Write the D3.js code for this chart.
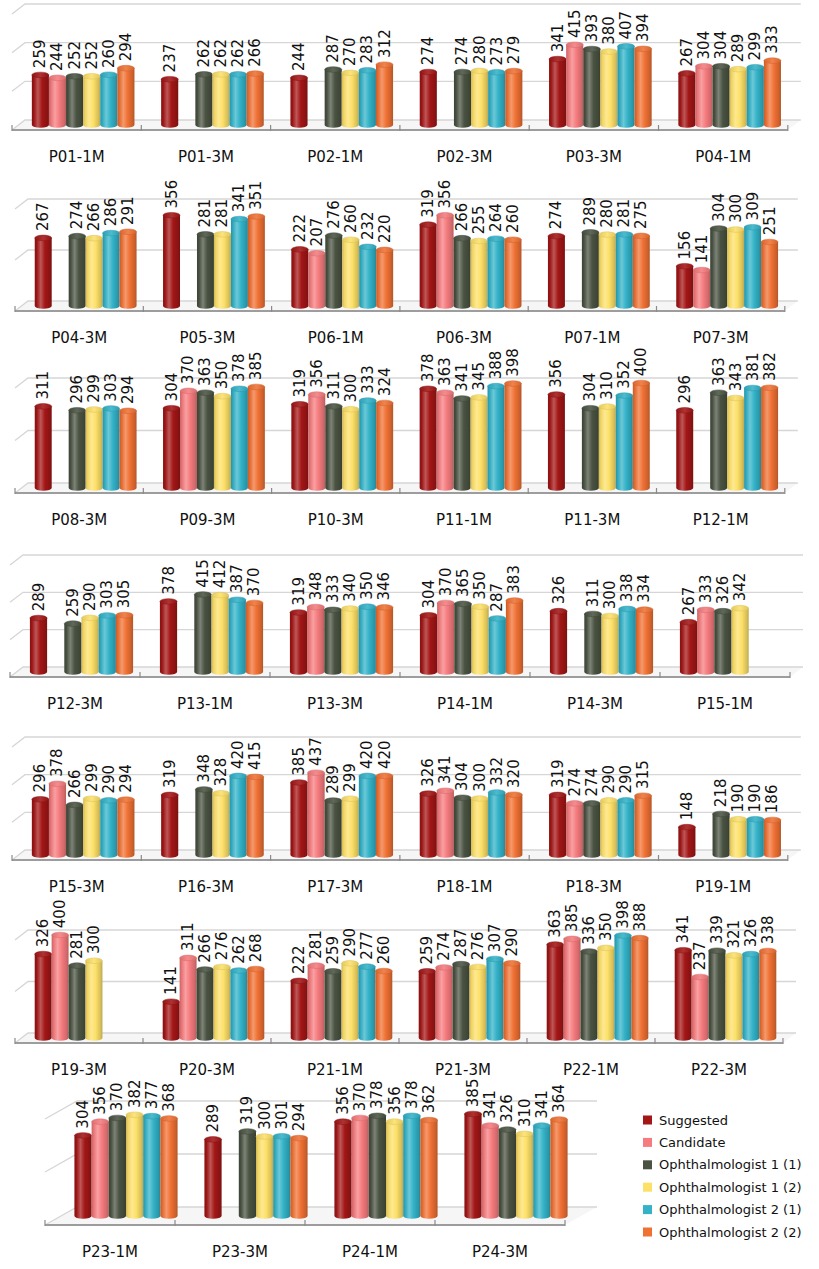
<!DOCTYPE html>
<html>
<head>
<meta charset="utf-8">
<script src="https://cdn.jsdelivr.net/npm/d3@7"></script>
<style>
  html, body { margin: 0; padding: 0; background: #ffffff; }
  svg { display: block; font-family: "DejaVu Sans", "Open Sans", sans-serif; }
</style>
</head>
<body>
<script>
// ---- data ----
const categories = [
  "P01-1M", "P01-3M", "P02-1M", "P02-3M", "P03-3M", "P04-1M",
  "P04-3M", "P05-3M", "P06-1M", "P06-3M", "P07-1M", "P07-3M",
  "P08-3M", "P09-3M", "P10-3M", "P11-1M", "P11-3M", "P12-1M",
  "P12-3M", "P13-1M", "P13-3M", "P14-1M", "P14-3M", "P15-1M",
  "P15-3M", "P16-3M", "P17-3M", "P18-1M", "P18-3M", "P19-1M",
  "P19-3M", "P20-3M", "P21-1M", "P21-3M", "P22-1M", "P22-3M",
  "P23-1M", "P23-3M", "P24-1M", "P24-3M"
];
const suggested = [
  259, 237, 244, 274, 341, 267,
  267, 356, 222, 319, 274, 156,
  311, 304, 319, 378, 356, 296,
  289, 378, 319, 304, 326, 267,
  296, 319, 385, 326, 319, 148,
  326, 141, 222, 259, 363, 341,
  304, 289, 356, 385
];
const candidate = [
  244, null, null, null, 415, 304,
  null, null, 207, 356, null, 141,
  null, 370, 356, 363, null, null,
  null, null, 348, 370, null, 333,
  378, null, 437, 341, 274, null,
  400, 311, 281, 274, 385, 237,
  356, null, 370, 341
];
const oph1First = [
  252, 262, 287, 274, 393, 304,
  274, 281, 276, 266, 289, 304,
  296, 363, 311, 341, 304, 363,
  259, 415, 333, 365, 311, 326,
  266, 348, 289, 304, 274, 218,
  281, 266, 259, 287, 336, 339,
  370, 319, 378, 326
];
const oph1Second = [
  252, 262, 270, 280, 380, 289,
  266, 281, 260, 255, 280, 300,
  299, 350, 300, 345, 310, 343,
  290, 412, 340, 350, 300, 342,
  299, 328, 299, 300, 290, 190,
  300, 276, 290, 276, 350, 321,
  382, 300, 356, 310
];
const oph2First = [
  260, 262, 283, 273, 407, 299,
  286, 341, 232, 264, 281, 309,
  303, 378, 333, 388, 352, 381,
  303, 387, 350, 287, 338, null,
  290, 420, 420, 332, 290, 190,
  null, 262, 277, 307, 398, 326,
  377, 301, 378, 341
];
const oph2Second = [
  294, 266, 312, 279, 394, 333,
  291, 351, 220, 260, 275, 251,
  294, 385, 324, 398, 400, 382,
  305, 370, 346, 383, 334, null,
  294, 415, 420, 320, 315, 186,
  null, 268, 260, 290, 388, 338,
  368, 294, 362, 364
];
const seriesNames = [
  "Suggested", "Candidate",
  "Ophthalmologist 1 (1)", "Ophthalmologist 1 (2)",
  "Ophthalmologist 2 (1)", "Ophthalmologist 2 (2)"
];
const seriesValues = [suggested, candidate, oph1First, oph1Second, oph2First, oph2Second];
const rowSizes = [6, 6, 6, 6, 6, 6, 4];
const rowAxisMax = [600, 400, 400, 600, 600, 400, 400];
const gridStep = 200;

// ---- styling / layout ----
const colors = ["#a31616", "#f57b7e", "#4a5342", "#fde068", "#33b2c8", "#f07134"];
// per-row chart frame: left edge, panel width, front axis y, floor depth, axis pixel height
const rowFrames = [
  { x0: 12, pw: 129.3, front: 130,  dx: 13, dy: 10, h: 116 },
  { x0: 15, pw: 128.3, front: 311,  dx: 13, dy: 10, h: 102 },
  { x0: 15, pw: 128.3, front: 493,  dx: 13, dy: 10, h: 105 },
  { x0: 10, pw: 130,   front: 677,  dx: 13, dy: 10, h: 112 },
  { x0: 12, pw: 129.3, front: 860,  dx: 13, dy: 10, h: 113 },
  { x0: 15, pw: 128,   front: 1043, dx: 13, dy: 10, h: 103 },
  { x0: 45, pw: 130,   front: 1225, dx: 32, dy: 18, h: 106 }
];
const FONT = "DejaVu Sans";

const svg = d3.select("body").append("svg")
  .attr("width", 819).attr("height", 1269);
const defs = svg.append("defs");

// cylinder shading gradients, one per series
colors.forEach((c, i) => {
  const base = d3.color(c);
  const light = d3.interpolateRgb(c, "#ffffff")(0.28);
  const g = defs.append("linearGradient").attr("id", "cyl" + i)
    .attr("x1", 0).attr("x2", 1).attr("y1", 0).attr("y2", 0);
  [[0, base.darker(0.55).formatHex()],
   [0.12, base.darker(0.15).formatHex()],
   [0.35, light],
   [0.6, base.formatHex()],
   [0.88, base.darker(0.45).formatHex()],
   [1, base.darker(0.8).formatHex()]]
    .forEach(([o, col]) => g.append("stop").attr("offset", o).attr("stop-color", col));
  const t = defs.append("linearGradient").attr("id", "cap" + i)
    .attr("x1", 0).attr("x2", 1).attr("y1", 0).attr("y2", 0);
  [[0, base.darker(0.3).formatHex()],
   [0.5, d3.interpolateRgb(c, "#ffffff")(0.12)],
   [1, base.darker(0.35).formatHex()]]
    .forEach(([o, col]) => t.append("stop").attr("offset", o).attr("stop-color", col));
});

let start = 0;
rowSizes.forEach((n, r) => {
  const F = rowFrames[r];
  const cats = categories.slice(start, start + n);
  const offset = start;
  start += n;
  const W = F.pw * n;
  const back = F.front - F.dy;

  const x = d3.scaleBand().domain(cats).range([F.x0, F.x0 + W]);
  const inner = d3.scaleBand().domain(d3.range(seriesNames.length))
    .range([0, x.bandwidth()]).paddingInner(0).paddingOuter(0.78);
  const y = d3.scaleLinear().domain([0, rowAxisMax[r]]).range([back, back - F.h]);
  const ticks = d3.range(0, rowAxisMax[r] + 1, gridStep);

  const g = svg.append("g");

  // floor
  g.append("path")
    .attr("d", `M${F.x0},${F.front} L${F.x0 + W},${F.front} L${F.x0 + W + F.dx},${back} L${F.x0 + F.dx},${back} Z`)
    .attr("fill", "#f6f6f6");

  // back-wall gridlines with their side-wall returns
  ticks.forEach(v => {
    const yy = y(v);
    g.append("path")
      .attr("d", `M${F.x0},${yy + F.dy} L${F.x0 + F.dx},${yy} L${F.x0 + F.dx + W},${yy}`)
      .attr("fill", "none").attr("stroke", "#d6d6d6").attr("stroke-width", 1.3);
  });

  // front axis line and ticks
  g.append("line")
    .attr("x1", F.x0).attr("x2", F.x0 + W)
    .attr("y1", F.front).attr("y2", F.front)
    .attr("stroke", "#9d9d9d").attr("stroke-width", 2);
  d3.range(n + 1).forEach(k => {
    const tx = F.x0 + k * x.step();
    g.append("line")
      .attr("x1", tx).attr("x2", tx)
      .attr("y1", F.front - 5).attr("y2", F.front + 1)
      .attr("stroke", "#8a8a8a").attr("stroke-width", 1.2);
  });

  // bars
  const ry = 2.8;
  cats.forEach((cat, ci) => {
    seriesValues.forEach((vals, si) => {
      const v = vals[offset + ci];
      if (v == null) return;
      const bx = x(cat) + inner(si) + F.dx / 2;
      const bw = inner.bandwidth();
      const yBase = y(0) + F.dy / 2;
      const yTop = y(v) + F.dy / 2;
      g.append("path")
        .attr("d", `M${bx},${yTop} L${bx},${yBase} A${bw / 2},${ry} 0 0 0 ${bx + bw},${yBase} L${bx + bw},${yTop} Z`)
        .attr("fill", `url(#cyl${si})`);
      g.append("ellipse")
        .attr("cx", bx + bw / 2).attr("cy", yTop)
        .attr("rx", bw / 2).attr("ry", ry)
        .attr("fill", `url(#cap${si})`)
        .attr("stroke", d3.color(colors[si]).darker(0.4).formatHex())
        .attr("stroke-width", 0.5);
      g.append("text")
        .attr("transform", `translate(${bx + bw / 2},${yTop - ry - 4}) rotate(-90)`)
        .attr("text-anchor", "start")
        .attr("dominant-baseline", "central")
        .attr("font-family", FONT)
        .attr("font-size", 15)
        .attr("fill", "#111111")
        .text(v);
    });
  });

  // category labels
  g.selectAll("text.cat").data(cats).join("text")
    .attr("class", "cat")
    .attr("x", d => x(d) + x.bandwidth() / 2)
    .attr("y", F.front + 27)
    .attr("text-anchor", "middle")
    .attr("dominant-baseline", "central")
    .attr("font-family", FONT)
    .attr("font-size", 15)
    .attr("fill", "#111111")
    .text(d => d);
});

// legend
const ly = d3.scalePoint().domain(seriesNames).range([1120, 1232]);
const legend = svg.append("g");
seriesNames.forEach((name, i) => {
  legend.append("rect")
    .attr("x", 643).attr("y", ly(name) - 4.5)
    .attr("width", 9).attr("height", 9)
    .attr("fill", colors[i]);
  legend.append("text")
    .attr("x", 659).attr("y", ly(name))
    .attr("dominant-baseline", "central")
    .attr("font-family", FONT)
    .attr("font-size", 13)
    .attr("fill", "#111111")
    .text(name);
});
</script>
</body>
</html>
